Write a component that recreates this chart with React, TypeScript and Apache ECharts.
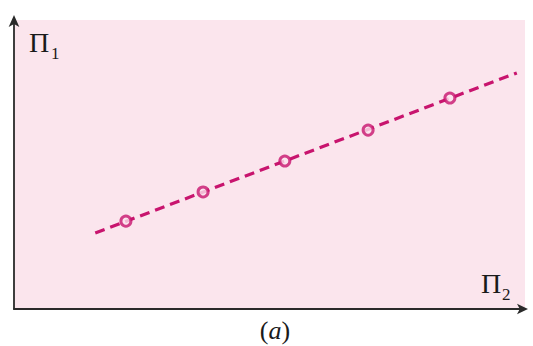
import React, { useEffect, useRef } from "react";
import * as echarts from "echarts";

const lineX = [1.59, 9.84];
const lineY = [2.63, 8.17];
const pointX = [2.19, 3.7, 5.3, 6.93, 8.53];
const pointY = [3.04, 4.05, 5.12, 6.19, 7.3];
const yLabel = ["Π", "1"];
const xLabel = ["Π", "2"];

const MAGENTA = "#c8146e";
const PINK = "#fbe5ed";
const AXIS = "#2a2a2a";
const SERIF = "'Liberation Serif', 'Times New Roman', serif";

export default function App() {
  const ref = useRef<HTMLDivElement>(null);
  useEffect(() => {
    if (!ref.current) return;
    const chart = echarts.init(ref.current, undefined, { renderer: "svg" });
    chart.setOption({
      animation: false,
      backgroundColor: "#ffffff",
      grid: {
        left: 14,
        top: 20,
        right: 8,
        bottom: 37,
        show: true,
        backgroundColor: PINK,
        borderWidth: 0,
      },
      xAxis: {
        type: "value",
        min: 0,
        max: 10,
        axisLine: {
          show: true,
          symbol: ["none", "arrow"],
          symbolSize: [8, 11],
          symbolOffset: [0, 3],
          lineStyle: { color: AXIS, width: 1.8 },
        },
        axisTick: { show: false },
        axisLabel: { show: false },
        splitLine: { show: false },
      },
      yAxis: {
        type: "value",
        min: 0,
        max: 10,
        axisLine: {
          show: true,
          symbol: ["none", "arrow"],
          symbolSize: [8, 12],
          symbolOffset: [0, 5],
          lineStyle: { color: AXIS, width: 1.8 },
        },
        axisTick: { show: false },
        axisLabel: { show: false },
        splitLine: { show: false },
      },
      series: [
        {
          type: "line",
          data: lineX.map((x, i) => [x, lineY[i]]),
          showSymbol: false,
          symbol: "none",
          lineStyle: { color: MAGENTA, width: 3.2, type: [10, 6] },
          silent: true,
          z: 2,
        },
        {
          type: "scatter",
          data: pointX.map((x, i) => [x, pointY[i]]),
          symbol: "circle",
          symbolSize: 10,
          itemStyle: { color: PINK, borderColor: MAGENTA, borderWidth: 3 },
          z: 3,
        },
      ],
      graphic: [
        {
          type: "text",
          x: 29,
          y: 42.5,
          style: { text: yLabel[0], font: `28px ${SERIF}`, fill: "#1a1a1a", verticalAlign: "middle" },
        },
        {
          type: "text",
          x: 51,
          y: 53.3,
          style: { text: yLabel[1], font: `17px ${SERIF}`, fill: "#1a1a1a", verticalAlign: "middle" },
        },
        {
          type: "text",
          x: 481,
          y: 283.5,
          style: { text: xLabel[0], font: `28px ${SERIF}`, fill: "#1a1a1a", verticalAlign: "middle" },
        },
        {
          type: "text",
          x: 502,
          y: 294.3,
          style: { text: xLabel[1], font: `17px ${SERIF}`, fill: "#1a1a1a", verticalAlign: "middle" },
        },
        {
          type: "text",
          x: 275,
          y: 330,
          style: {
            text: "{p|(}{a|a}{p|)}",
            align: "center",
            verticalAlign: "middle",
            rich: {
              p: { font: `26px ${SERIF}`, fill: "#1a1a1a" },
              a: { font: `italic 26px ${SERIF}`, fill: "#1a1a1a" },
            },
          },
        },
      ],
    });
    return () => chart.dispose();
  }, []);
  return <div ref={ref} style={{ width: 533, height: 346, position: "absolute", left: 0, top: 0 }} />;
}
